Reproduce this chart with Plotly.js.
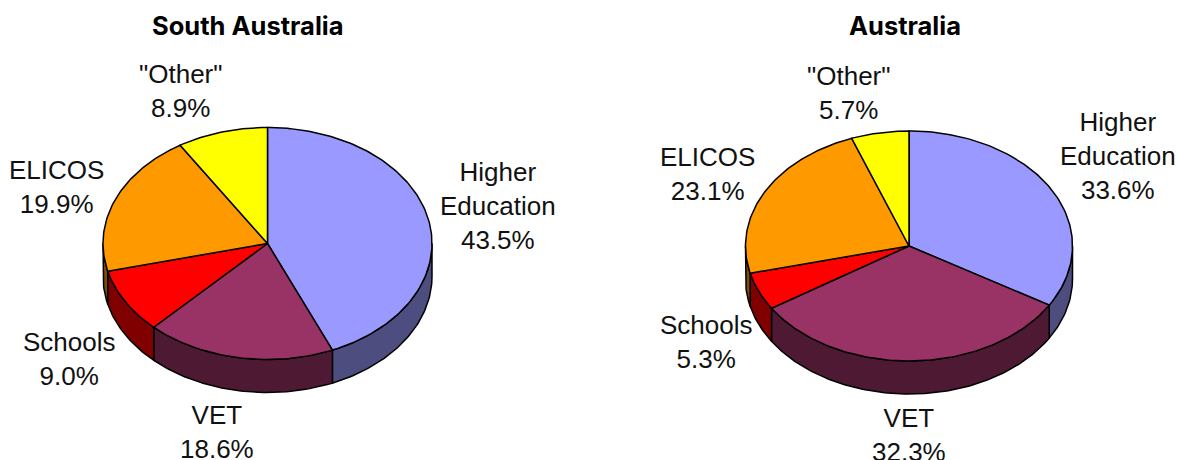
<!DOCTYPE html>
<html>
<head>
<meta charset="utf-8">
<script src="https://cdn.plot.ly/plotly-3.0.1.min.js"></script>
<style>html,body{margin:0;padding:0;background:#fff;overflow:hidden}#chart{width:1177px;height:460px}</style>
</head>
<body>
<div id="chart"></div>
<script>
const categories = ['Higher<br>Education', 'VET', 'Schools', 'ELICOS', '"Other"'];
const southAustralia = [43.5, 18.6, 9.0, 19.9, 8.9];
const australia = [33.6, 32.3, 5.3, 23.1, 5.7];
const topColors = ['#9999FF', '#993366', '#FF0000', '#FF9900', '#FFFF00'];
const sideColors = ['#4D4D80', '#4D1933', '#800000', '#804D00', '#808000'];
const chartTitles = ['South Australia', 'Australia'];

const pies = [
  {values: southAustralia, title: chartTitles[0], cx: 267.5, cy: 243.5, rx: 164.5, ry: 116, depth: 33, titleX: 248,
   labels: [[498, 205.5], [217, 432], [69, 359], [56, 186.5], [180, 91]]},
  {values: australia, title: chartTitles[1], cx: 909, cy: 246, rx: 163.5, ry: 115, depth: 33, titleX: 905,
   labels: [[1118, 155.5], [909, 435], [706, 341.5], [707, 173.5], [848, 92.5]]}
];

const LINE = {color: '#000', width: 1.5};
const traces = [];
const annotations = [];
const labelFont = {family: '"Liberation Sans", Arial, sans-serif', size: 26, color: '#111'};
const titleFont = {family: 'Inter, "Liberation Sans", sans-serif', size: 25.5, color: '#000'};

function arc(p, a, b, dy) {
  const xs = [], ys = [];
  const n = Math.max(2, Math.ceil(Math.abs(b - a)));
  for (let i = 0; i <= n; i++) {
    const t = (a + (b - a) * i / n) * Math.PI / 180;
    xs.push(p.cx + p.rx * Math.sin(t));
    ys.push(p.cy - p.ry * Math.cos(t) + dy);
  }
  return [xs, ys];
}
function poly(xs, ys, color, name) {
  traces.push({type: 'scatter', mode: 'lines', x: xs, y: ys, fill: 'toself', fillcolor: color,
    line: LINE, hoverinfo: 'skip', name: name, showlegend: false});
}

pies.forEach(p => {
  const total = p.values.reduce((s, v) => s + v, 0);
  const spans = [];
  let acc = 0;
  p.values.forEach(v => { spans.push([acc / total * 360, (acc + v) / total * 360]); acc += v; });
  // side walls: only the part of each slice on the front half of the rim
  spans.forEach((s, i) => {
    const a = Math.max(s[0], 90), b = Math.min(s[1], 270);
    if (b <= a) return;
    const top = arc(p, a, b, 0), bot = arc(p, b, a, p.depth);
    poly(top[0].concat(bot[0], [top[0][0]]), top[1].concat(bot[1], [top[1][0]]), sideColors[i], categories[i] + ' side');
  });
  // top faces
  spans.forEach((s, i) => {
    const top = arc(p, s[0], s[1], 0);
    poly([p.cx].concat(top[0], [p.cx]), [p.cy].concat(top[1], [p.cy]), topColors[i], categories[i]);
  });
  p.values.forEach((v, i) => {
    annotations.push({x: p.labels[i][0], y: p.labels[i][1], xref: 'x', yref: 'y', showarrow: false,
      xanchor: 'center', yanchor: 'middle', align: 'center', font: labelFont,
      text: categories[i] + '<br>' + v.toFixed(1) + '%'});
  });
  annotations.push({x: p.titleX, y: 25.5, xref: 'x', yref: 'y', showarrow: false, xanchor: 'center', yanchor: 'middle',
    font: titleFont, text: '<b>' + p.title + '</b>'});
});

const hidden = {visible: false, showgrid: false, zeroline: false, fixedrange: true};
Plotly.newPlot('chart', traces, {
  width: 1177, height: 460,
  margin: {l: 0, r: 0, t: 0, b: 0},
  paper_bgcolor: '#fff', plot_bgcolor: '#fff',
  showlegend: false,
  xaxis: Object.assign({range: [0, 1177]}, hidden),
  yaxis: Object.assign({range: [460, 0]}, hidden),
  annotations: annotations
}, {displayModeBar: false, staticPlot: true});
</script>
</body>
</html>
